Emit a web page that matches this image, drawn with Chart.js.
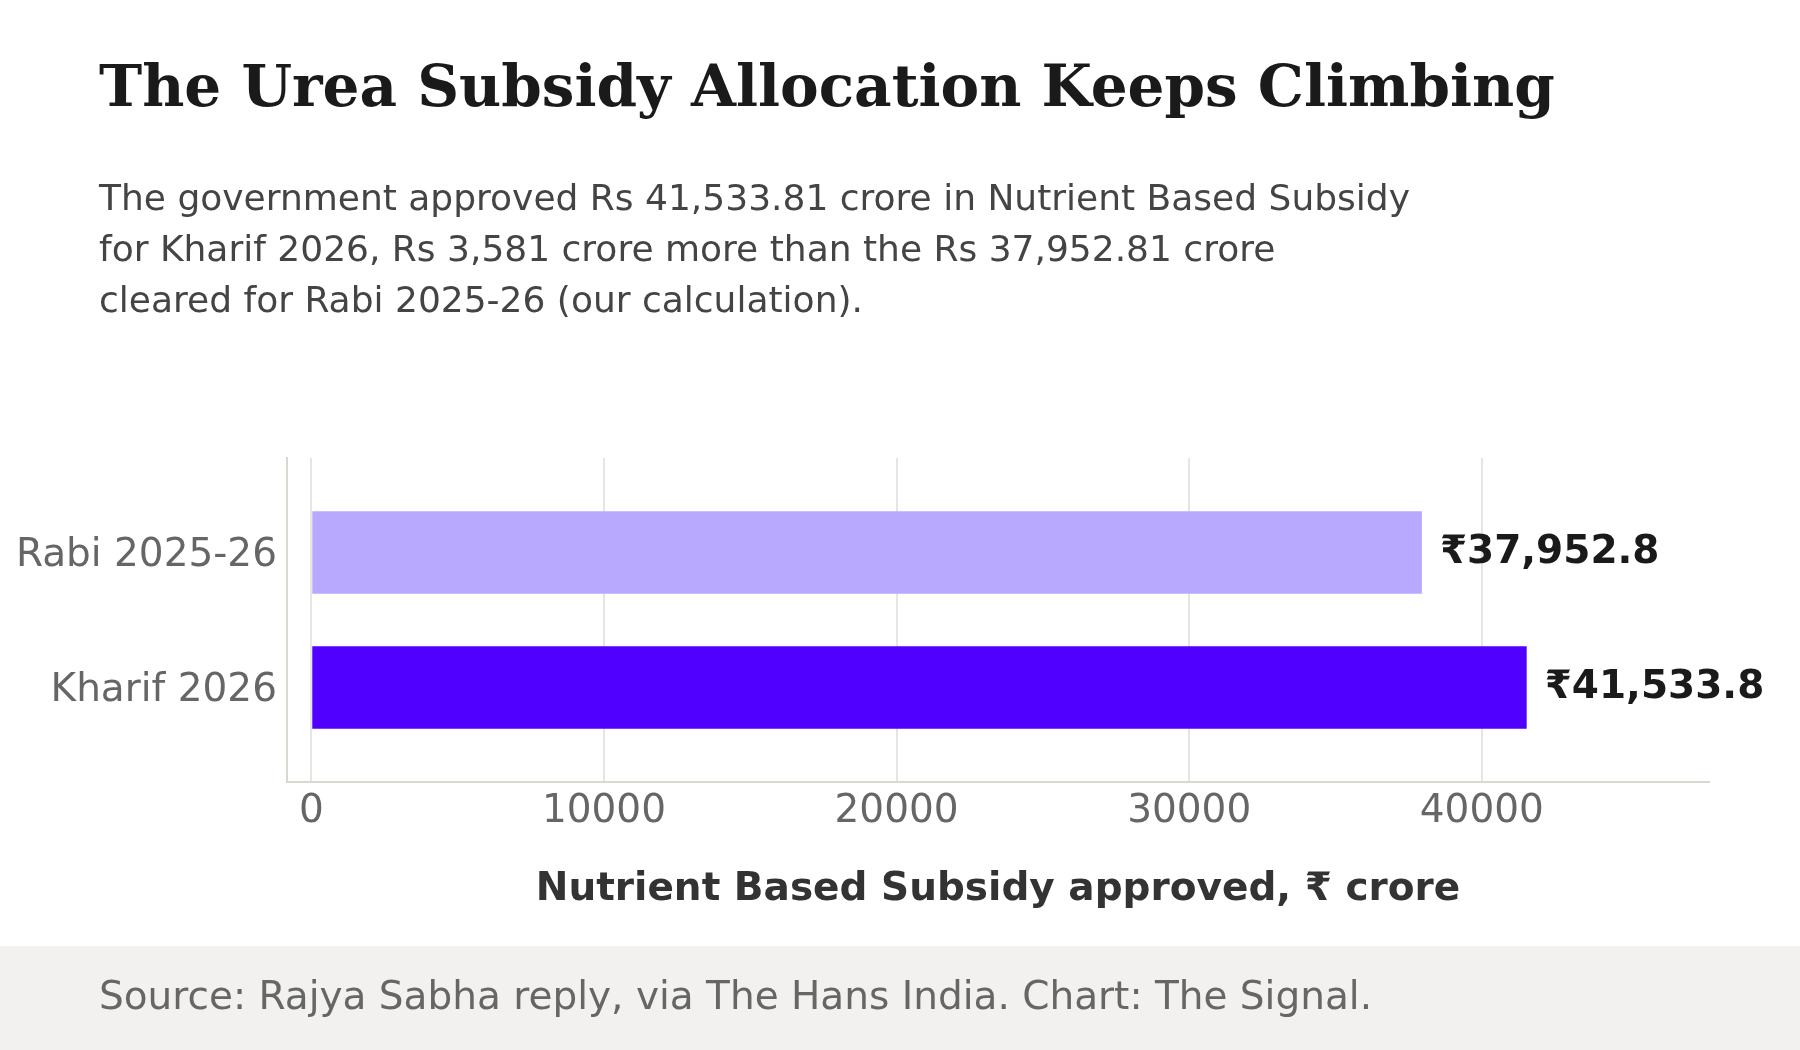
<!DOCTYPE html>
<html>
<head>
<meta charset="utf-8">
<script src="https://cdn.jsdelivr.net/npm/chart.js@4/dist/chart.umd.min.js"></script>
<style>
  html, body { margin: 0; padding: 0; background: #ffffff; }
  #page { position: relative; width: 1800px; height: 1050px; overflow: hidden; background: #ffffff; }
  #footerBand { position: absolute; left: 0; top: 946px; width: 1800px; height: 104px; background: #f2f1ef; z-index: 0; }
  #chart { position: absolute; left: 0; top: 0; z-index: 1; }
  .txt { position: absolute; z-index: 2; white-space: nowrap; margin: 0; }
  #title { left: 99px; top: 57px; font-family: "DejaVu Serif", serif; font-weight: bold; font-size: 58px; line-height: 58px; color: #1a1a1a; }
  #subtitle { left: 99px; top: 172px; font-family: "DejaVu Sans", sans-serif; font-size: 36px; line-height: 51px; color: #444444; }
  #source { left: 99px; top: 976px; font-family: "DejaVu Sans", sans-serif; font-size: 39px; line-height: 39px; color: #666666; }
</style>
</head>
<body>
<div id="page">
  <div id="footerBand"></div>
  <canvas id="chart" width="1800" height="1050"></canvas>
  <div class="txt" id="title">The Urea Subsidy Allocation Keeps Climbing</div>
  <div class="txt" id="subtitle">The government approved Rs 41,533.81 crore in Nutrient Based Subsidy<br>for Kharif 2026, Rs 3,581 crore more than the Rs 37,952.81 crore<br>cleared for Rabi 2025-26 (our calculation).</div>
  <div class="txt" id="source">Source: Rajya Sabha reply, via The Hans India. Chart: The Signal.</div>
</div>
<script>
// ---- data ----
const categories = ["Rabi 2025-26", "Kharif 2026"];
const subsidyValues = [37952.81, 41533.81];
const barColors = ["#b8a9fe", "#4f00ff"];
const xTickValues = [0, 10000, 20000, 30000, 40000];
const xAxisTitle = "Nutrient Based Subsidy approved, \u20b9 crore";
const xMin = -830;
const xMax = 47764;

function fmtValue(v) {
  return "\u20b9" + v.toLocaleString("en-US", { minimumFractionDigits: 1, maximumFractionDigits: 1 });
}

const valueLabels = {
  id: "valueLabels",
  afterDatasetsDraw(chart) {
    const ctx = chart.ctx;
    const meta = chart.getDatasetMeta(0);
    ctx.save();
    ctx.font = "bold 39px 'DejaVu Sans', sans-serif";
    ctx.fillStyle = "#1a1a1a";
    ctx.textAlign = "left";
    ctx.textBaseline = "middle";
    meta.data.forEach((bar, i) => {
      ctx.fillText(fmtValue(subsidyValues[i]), bar.x + 18, bar.y);
    });
    ctx.restore();
  }
};

const ctx = document.getElementById("chart").getContext("2d");
new Chart(ctx, {
  type: "bar",
  data: {
    datasets: [{
      data: subsidyValues.map((v, i) => ({ x: v, y: i })),
      backgroundColor: barColors,
      borderWidth: 0,
      barPercentage: 0.61,
      categoryPercentage: 1.0
    }]
  },
  options: {
    indexAxis: "y",
    responsive: false,
    animation: false,
    devicePixelRatio: 1,
    layout: { padding: { top: 458, right: 91, left: 0, bottom: 0 } },
    plugins: { legend: { display: false }, tooltip: { enabled: false } },
    scales: {
      x: {
        type: "linear",
        min: xMin,
        max: xMax,
        afterFit(scale) { scale.height = 268; },
        afterBuildTicks(scale) { scale.ticks = xTickValues.map(v => ({ value: v })); },
        ticks: {
          includeBounds: false,
          autoSkip: false,
          maxRotation: 0,
          padding: 6,
          color: "#666666",
          font: { family: "'DejaVu Sans', sans-serif", size: 39 },
          callback: (v) => String(v)
        },
        grid: { display: true, color: "#e6e6e1", lineWidth: 2, drawTicks: false },
        border: { display: true, color: "#d9d9d2", width: 2 },
        title: {
          display: true,
          text: xAxisTitle,
          color: "#333333",
          font: { family: "'DejaVu Sans', sans-serif", size: 39, weight: "bold" },
          padding: { top: 0, bottom: 137 }
        }
      },
      y: {
        type: "linear",
        min: -0.7,
        max: 1.7,
        reverse: true,
        offset: false,
        afterFit(scale) { scale.width = 287; },
        afterBuildTicks(scale) { scale.ticks = categories.map((c, i) => ({ value: i })); },
        ticks: {
          autoSkip: false,
          padding: 10,
          labelOffset: 3,
          color: "#666666",
          font: { family: "'DejaVu Sans', sans-serif", size: 39 },
          callback: (v) => categories[v]
        },
        grid: { display: false, drawTicks: false, offset: false },
        border: { display: true, color: "#d9d9d2", width: 2 }
      }
    }
  },
  plugins: [valueLabels]
});
</script>
</body>
</html>
